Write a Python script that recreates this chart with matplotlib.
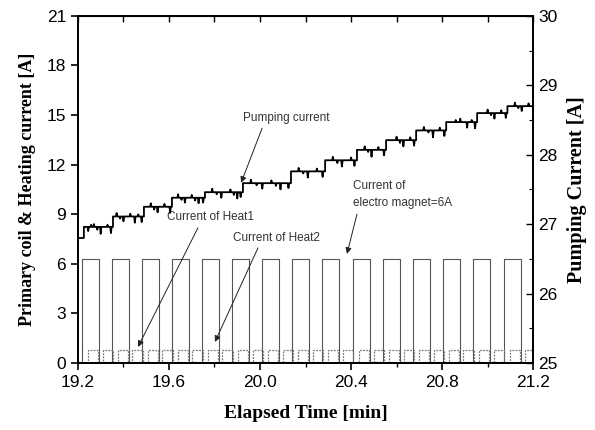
import numpy as np
import matplotlib
matplotlib.use("Agg")
import matplotlib.pyplot as plt
from matplotlib.ticker import MultipleLocator

# ---------------- data ----------------
# Pumping current: step levels [A] and step start times [min]
pump_step_t = [19.20, 19.226, 19.354, 19.490, 19.613, 19.758, 19.925, 20.136,
               20.286, 20.426, 20.554, 20.686, 20.818, 20.954, 21.087]
pump_step_v = [26.80, 26.96, 27.11, 27.25, 27.38, 27.46, 27.59, 27.76,
               27.92, 28.07, 28.21, 28.35, 28.47, 28.60, 28.70]
pump_end_t = 21.20
# glitches on the pumping trace: time [min], offset [A]
spike_t = [19.245, 19.258, 19.27, 19.285, 19.30, 19.33, 19.345, 19.37, 19.385, 19.40,
           19.43, 19.45, 19.465, 19.48, 19.52, 19.535, 19.55, 19.58, 19.605, 19.64,
           19.655, 19.67, 19.70, 19.715, 19.73, 19.75, 19.79, 19.81, 19.83, 19.87,
           19.885, 19.90, 19.915, 19.96, 19.985, 20.01, 20.05, 20.07, 20.09, 20.125,
           20.17, 20.19, 20.21, 20.25, 20.275, 20.32, 20.34, 20.36, 20.40, 20.415,
           20.46, 20.475, 20.49, 20.52, 20.545, 20.60, 20.615, 20.63, 20.66, 20.677,
           20.72, 20.74, 20.76, 20.79, 20.81, 20.86, 20.88, 20.91, 20.93, 20.945,
           21.00, 21.015, 21.03, 21.06, 21.08, 21.12, 21.135, 21.15, 21.18]
spike_d = [-0.06, 0.03, 0.04, -0.04, -0.10, 0.03, -0.09, 0.05, -0.03, -0.07,
           0.04, -0.09, 0.03, -0.08, 0.05, -0.04, -0.08, 0.04, -0.09, 0.05,
           -0.03, -0.07, 0.04, -0.04, -0.08, -0.07, 0.05, -0.03, -0.08, 0.04,
           -0.04, -0.09, -0.07, 0.05, -0.03, -0.08, 0.04, -0.04, -0.09, -0.07,
           0.05, -0.03, -0.09, 0.04, -0.08, 0.05, -0.04, -0.09, 0.04, -0.08,
           0.05, -0.03, -0.10, 0.04, -0.08, 0.05, -0.04, -0.09, 0.04, -0.08,
           0.05, -0.03, -0.10, 0.04, -0.08, 0.03, 0.05, -0.08, 0.03, -0.09,
           0.05, -0.03, -0.08, 0.04, -0.07, 0.05, -0.03, -0.07, 0.04]

# Heat1 (primary coil) square wave: on / off times [min], levels [A]
heat1_on = [19.218, 19.349, 19.481, 19.613, 19.745, 19.877, 20.009, 20.141,
            20.273, 20.409, 20.541, 20.673, 20.804, 20.936, 21.073]
heat1_off = [19.292, 19.423, 19.555, 19.687, 19.819, 19.951, 20.083, 20.215,
             20.347, 20.483, 20.615, 20.747, 20.878, 21.010, 21.147]
heat1_high = 6.3
heat1_low = 0.05

# Heat2 small pulses: start times [min], width, level
heat2_on = [19.243, 19.308, 19.374, 19.439, 19.506, 19.571, 19.638, 19.703,
            19.770, 19.835, 19.902, 19.967, 20.034, 20.099, 20.166, 20.231,
            20.298, 20.363, 20.434, 20.499, 20.566, 20.631, 20.698, 20.763,
            20.829, 20.894, 20.961, 21.026, 21.098, 21.163]
heat2_width = 0.045
heat2_high = 0.78
heat2_low = 0.0

x_min, x_max = 19.2, 21.2
x_ticks = [19.2, 19.6, 20.0, 20.4, 20.8, 21.2]
left_ticks = [0, 3, 6, 9, 12, 15, 18, 21]
right_ticks = [25, 26, 27, 28, 29, 30]

# ---------------- build traces ----------------
def square_wave(ons, offs, hi, lo, t0, t1):
    xs, ys = [t0], [lo]
    for a, b in zip(ons, offs):
        xs += [a, a, b, b]
        ys += [lo, hi, hi, lo]
    xs.append(t1); ys.append(lo)
    return xs, ys

h1x, h1y = square_wave(heat1_on, heat1_off, heat1_high, heat1_low, x_min, x_max)
h2x, h2y = square_wave(heat2_on, [t + heat2_width for t in heat2_on],
                       heat2_high, heat2_low, x_min, x_max)

pts = []
for i, t in enumerate(pump_step_t):
    if i == 0:
        pts.append((t, pump_step_v[0]))
    else:
        pts.append((t, pump_step_v[i - 1]))
        pts.append((t, pump_step_v[i]))
pts.append((pump_end_t, pump_step_v[-1]))
st = np.array(pump_step_t)
for s, d in zip(spike_t, spike_d):
    idx = np.searchsorted(st, s, side="right") - 1
    v = pump_step_v[idx]
    pts += [(s - 0.003, v), (s, v + d), (s + 0.003, v)]
pts.sort(key=lambda p: p[0])
px = [p[0] for p in pts]
py = [p[1] for p in pts]

# ---------------- plot ----------------
tick_font = "Liberation Sans"
label_font = "Liberation Serif"

fig = plt.figure(figsize=(5.95, 4.30), dpi=100)
ax = fig.add_axes([0.131, 0.156, 0.765, 0.807])
ax2 = ax.twinx()

ax.plot(h1x, h1y, color="#555555", lw=0.8)
ax.plot(h2x, h2y, color="#7a7a7a", lw=0.9, ls=(0, (1.5, 1)))
ax2.plot(px, py, color="black", lw=1.3)

ax.set_xlim(x_min, x_max)
ax.set_ylim(0, 21)
ax2.set_ylim(25, 30)
ax.set_xticks(x_ticks)
ax.xaxis.set_minor_locator(MultipleLocator(0.2))
ax.set_yticks(left_ticks)
ax2.set_yticks(right_ticks)
ax2.yaxis.set_minor_locator(MultipleLocator(0.5))

ax.tick_params(axis="both", which="major", direction="out", length=5, width=1.2,
               labelsize=12.5)
ax.tick_params(axis="x", which="minor", direction="out", length=3, width=1.0)
ax.tick_params(axis="x", which="both", top=False)
ax2.tick_params(axis="y", which="major", direction="in", length=5, width=1.0,
                labelsize=12.5)
ax2.tick_params(axis="y", which="minor", direction="in", length=3, width=0.8)

for lab in ax.get_xticklabels() + ax.get_yticklabels() + ax2.get_yticklabels():
    lab.set_fontfamily(tick_font)
ax.set_xticklabels([f"{t:.1f}" for t in x_ticks])

# top ticks (inward) via secondary axis
top = ax.secondary_xaxis("top")
top.set_xticks(np.arange(19.2, 21.21, 0.2))
top.tick_params(direction="in", length=4, width=1.0, labeltop=False)

for sp in ax.spines.values():
    sp.set_linewidth(1.3)
for sp in ax2.spines.values():
    sp.set_linewidth(1.3)

ax.set_xlabel("Elapsed Time [min]", fontfamily=label_font, fontweight="bold",
              fontsize=14, labelpad=11)
ax.set_ylabel("Primary coil & Heating current [A]", fontfamily=label_font,
              fontweight="bold", fontsize=13, labelpad=8)
ax2.set_ylabel("Pumping Current [A]", fontfamily=label_font, fontweight="bold",
               fontsize=14.5, labelpad=7)

ann_kw = dict(fontsize=8.5, fontfamily=tick_font, color="#333333")
arrow_kw = dict(arrowstyle="-|>", color="#222222", lw=0.7, mutation_scale=9,
                shrinkA=0, shrinkB=0)

ax.text(19.925, 14.83, "Pumping current", va="center", ha="left", **ann_kw)
ax.annotate("", xy=(19.917, 10.9), xytext=(20.009, 14.2), arrowprops=arrow_kw)

ax.text(19.591, 8.84, "Current of Heat1", va="center", ha="left", **ann_kw)
ax.annotate("", xy=(19.464, 0.97), xytext=(19.727, 8.17), arrowprops=arrow_kw)

ax.text(19.881, 7.57, "Current of Heat2", va="center", ha="left", **ann_kw)
ax.annotate("", xy=(19.802, 1.27), xytext=(19.991, 6.96), arrowprops=arrow_kw)

ax.text(20.409, 10.71, "Current of", va="center", ha="left", **ann_kw)
ax.text(20.409, 9.69, "electro magnet=6A", va="center", ha="left", **ann_kw)
ax.annotate("", xy=(20.382, 6.6), xytext=(20.426, 9.0), arrowprops=arrow_kw)

fig.savefig("out.png", dpi=100)
